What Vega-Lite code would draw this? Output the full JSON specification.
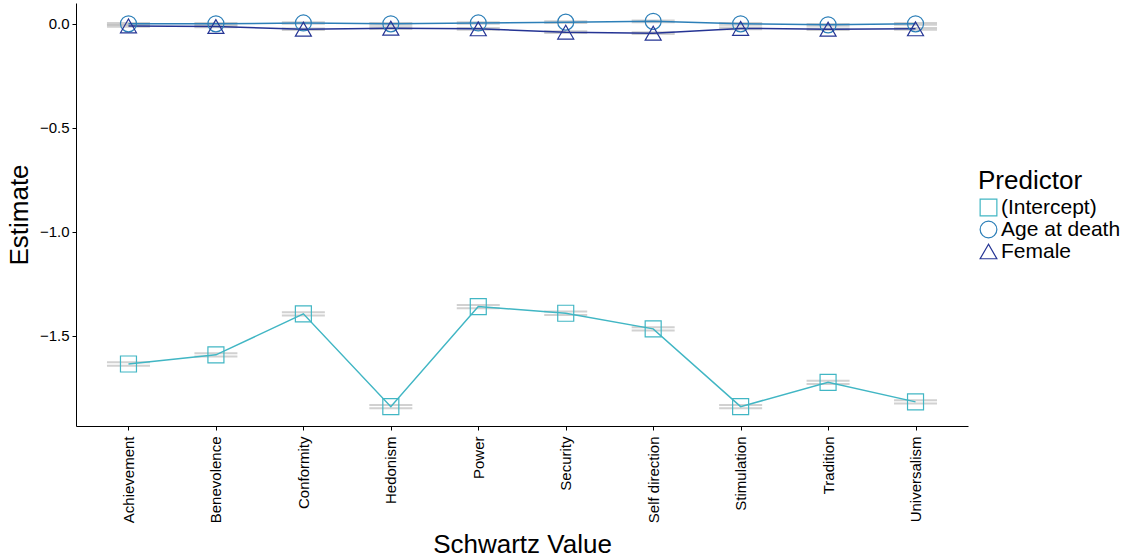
{
  "$schema": "https://vega.github.io/schema/vega-lite/v6.json",
  "width": 892,
  "height": 423,
  "autosize": "none",
  "padding": {"left": 76, "top": 3, "right": 167, "bottom": 133},
  "background": "white",
  "config": {
    "view": {"stroke": null},
    "font": "Liberation Sans",
    "axis": {"grid": false, "domainColor": "black", "tickColor": "black", "labelColor": "black", "titleColor": "black", "titleFontWeight": "normal", "labelFont": "Liberation Sans", "titleFont": "Liberation Sans"}
  },
  "data": {
    "values": [
      {"value": "Achievement", "predictor": "(Intercept)", "estimate": -1.635, "lo": -1.643, "hi": -1.627},
      {"value": "Benevolence", "predictor": "(Intercept)", "estimate": -1.591, "lo": -1.599, "hi": -1.583},
      {"value": "Conformity", "predictor": "(Intercept)", "estimate": -1.394, "lo": -1.402, "hi": -1.386},
      {"value": "Hedonism", "predictor": "(Intercept)", "estimate": -1.840, "lo": -1.848, "hi": -1.832},
      {"value": "Power", "predictor": "(Intercept)", "estimate": -1.359, "lo": -1.367, "hi": -1.351},
      {"value": "Security", "predictor": "(Intercept)", "estimate": -1.391, "lo": -1.399, "hi": -1.383},
      {"value": "Self direction", "predictor": "(Intercept)", "estimate": -1.466, "lo": -1.474, "hi": -1.458},
      {"value": "Stimulation", "predictor": "(Intercept)", "estimate": -1.840, "lo": -1.848, "hi": -1.832},
      {"value": "Tradition", "predictor": "(Intercept)", "estimate": -1.723, "lo": -1.731, "hi": -1.715},
      {"value": "Universalism", "predictor": "(Intercept)", "estimate": -1.817, "lo": -1.825, "hi": -1.809},
      {"value": "Achievement", "predictor": "Age at death", "estimate": 0.0, "lo": -0.004, "hi": 0.004},
      {"value": "Benevolence", "predictor": "Age at death", "estimate": 0.0, "lo": -0.004, "hi": 0.004},
      {"value": "Conformity", "predictor": "Age at death", "estimate": 0.004, "lo": 0.0, "hi": 0.008},
      {"value": "Hedonism", "predictor": "Age at death", "estimate": 0.0, "lo": -0.004, "hi": 0.004},
      {"value": "Power", "predictor": "Age at death", "estimate": 0.004, "lo": 0.0, "hi": 0.008},
      {"value": "Security", "predictor": "Age at death", "estimate": 0.008, "lo": 0.004, "hi": 0.012},
      {"value": "Self direction", "predictor": "Age at death", "estimate": 0.012, "lo": 0.008, "hi": 0.016},
      {"value": "Stimulation", "predictor": "Age at death", "estimate": 0.0, "lo": -0.004, "hi": 0.004},
      {"value": "Tradition", "predictor": "Age at death", "estimate": -0.005, "lo": -0.009, "hi": -0.001},
      {"value": "Universalism", "predictor": "Age at death", "estimate": 0.0, "lo": -0.004, "hi": 0.004},
      {"value": "Achievement", "predictor": "Female", "estimate": -0.010, "lo": -0.014, "hi": -0.006},
      {"value": "Benevolence", "predictor": "Female", "estimate": -0.013, "lo": -0.017, "hi": -0.009},
      {"value": "Conformity", "predictor": "Female", "estimate": -0.026, "lo": -0.030, "hi": -0.022},
      {"value": "Hedonism", "predictor": "Female", "estimate": -0.021, "lo": -0.025, "hi": -0.017},
      {"value": "Power", "predictor": "Female", "estimate": -0.024, "lo": -0.028, "hi": -0.020},
      {"value": "Security", "predictor": "Female", "estimate": -0.040, "lo": -0.044, "hi": -0.036},
      {"value": "Self direction", "predictor": "Female", "estimate": -0.045, "lo": -0.049, "hi": -0.041},
      {"value": "Stimulation", "predictor": "Female", "estimate": -0.022, "lo": -0.026, "hi": -0.018},
      {"value": "Tradition", "predictor": "Female", "estimate": -0.026, "lo": -0.030, "hi": -0.022},
      {"value": "Universalism", "predictor": "Female", "estimate": -0.024, "lo": -0.028, "hi": -0.020}
    ]
  },
  "encoding": {
    "x": {
      "field": "value", "type": "nominal",
      "scale": {"type": "point", "padding": 0.6},
      "axis": {"title": "Schwartz Value", "titleFontSize": 26, "labelFontSize": 15, "labelAngle": 270, "labelAlign": "right", "labelBaseline": "middle", "tickSize": 4, "labelPadding": 6, "titlePadding": 9}
    }
  },
  "layer": [
    {
      "mark": {"type": "tick", "color": "#bdbdbd", "size": 43, "thickness": 2},
      "encoding": {
        "y": {"field": "lo", "type": "quantitative"}
      }
    },
    {
      "mark": {"type": "tick", "color": "#bdbdbd", "size": 43, "thickness": 2},
      "encoding": {
        "y": {"field": "hi", "type": "quantitative"}
      }
    },
    {
      "mark": {"type": "line", "strokeWidth": 1.5},
      "encoding": {
        "y": {"field": "estimate", "type": "quantitative"},
        "color": {"field": "predictor", "type": "nominal",
          "scale": {"domain": ["(Intercept)", "Age at death", "Female"], "range": ["#41b6c4", "#2c7fb8", "#253494"]}},
        "detail": {"field": "predictor"}
      }
    },
    {
      "mark": {"type": "point", "filled": false, "strokeWidth": 1.2, "size": 256, "opacity": 1},
      "encoding": {
        "y": {
          "field": "estimate", "type": "quantitative",
          "scale": {"domain": [-1.933, 0.1], "nice": false, "zero": false},
          "axis": {"title": "Estimate", "titleFontSize": 26, "labelFontSize": 15, "values": [0, -0.5, -1, -1.5], "format": ".1f", "tickSize": 4, "labelPadding": 3, "titlePadding": 7}
        },
        "color": {"field": "predictor", "type": "nominal",
          "scale": {"domain": ["(Intercept)", "Age at death", "Female"], "range": ["#41b6c4", "#2c7fb8", "#253494"]},
          "legend": {"title": "Predictor", "orient": "none", "legendX": 902, "legendY": 165, "titleFontSize": 26, "titleFontWeight": "normal", "titleColor": "black", "labelFontSize": 21, "labelColor": "black", "symbolSize": 280, "symbolStrokeWidth": 1.2, "symbolFillColor": "transparent", "symbolType": "square", "rowPadding": -7, "labelOffset": 2, "titlePadding": 3, "labelLimit": 300}
        },
        "shape": {"field": "predictor", "type": "nominal",
          "scale": {"domain": ["(Intercept)", "Age at death", "Female"], "range": ["square", "circle", "triangle-up"]}}
      }
    }
  ]
}
